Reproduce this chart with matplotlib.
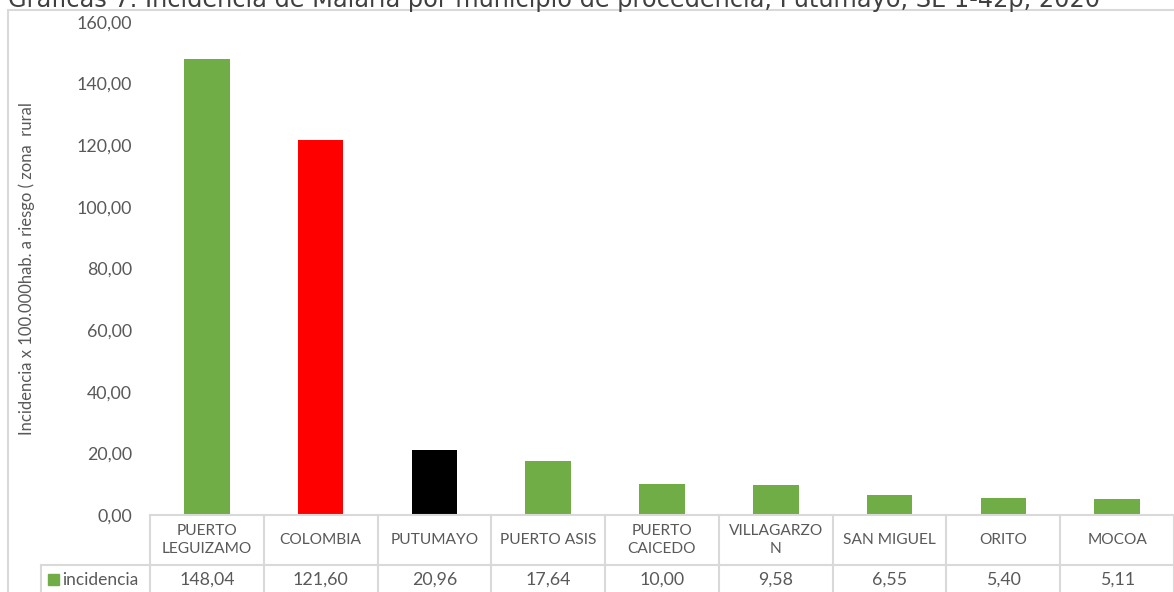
import matplotlib.pyplot as plt
from matplotlib.patches import Rectangle

# data
municipios = ['PUERTO\nLEGUIZAMO', 'COLOMBIA', 'PUTUMAYO', 'PUERTO ASIS', 'PUERTO\nCAICEDO',
              'VILLAGARZO\nN', 'SAN MIGUEL', 'ORITO', 'MOCOA']
incidencia = [148.04, 121.60, 20.96, 17.64, 10.00, 9.58, 6.55, 5.40, 5.11]
colores = ['#70AD47', '#FF0000', '#000000', '#70AD47', '#70AD47',
           '#70AD47', '#70AD47', '#70AD47', '#70AD47']
y_ticks = [0, 20, 40, 60, 80, 100, 120, 140, 160]

W, H = 1174, 592
grey_line = '#D9D9D9'
txt_col = '#595959'
font = 'Lato'

fig = plt.figure(figsize=(W / 100, H / 100), dpi=100)

# outer chart frame
fig.patches.append(Rectangle((8 / W, -0.1), 1.2, (H - 10) / H + 0.1, transform=fig.transFigure,
                             fill=False, edgecolor=grey_line, linewidth=1.5))

fig.text(8 / W, (H - 7) / H, 'Gráficas 7. Incidencia de Malaria por municipio de procedencia, Putumayo, SE 1-42p, 2020',
         fontsize=17.3, family='DejaVu Sans', color='#404040', va='baseline', ha='left')

# bar area
ax = fig.add_axes([150 / W, (H - 515) / H, 1024 / W, 493 / H])
x = list(range(len(municipios)))
ax.bar(x, incidencia, width=0.4, color=colores)
ax.set_xlim(-0.5, len(municipios) - 0.5)
ax.set_ylim(0, 160)
ax.set_yticks(y_ticks)
ax.set_yticklabels([f'{v:.2f}'.replace('.', ',') for v in y_ticks], family=font, fontsize=12.8, color=txt_col)
ax.tick_params(axis='y', length=0, pad=13)
ax.set_xticks([])
for s in ax.spines.values():
    s.set_visible(False)
ax.set_ylabel('Incidencia x 100.000hab. a riesgo ( zona  rural', family=font, fontsize=12,
              color=txt_col, labelpad=30)

# data table under the bars
cell_w = 1024 / 9
left_w = 109 / cell_w
tab = fig.add_axes([41 / W, (H - 600) / H, (W - 41) / W, 85 / H])
tab.set_xlim(-0.5 - left_w, len(municipios) - 0.5)
tab.set_ylim(600, 515)
tab.axis('off')

lw = 1.5
tab.plot([-0.5, len(municipios) - 0.5], [515, 515], color=grey_line, lw=lw, clip_on=False)
tab.plot([-0.5 - left_w, len(municipios) - 0.5], [565, 565], color=grey_line, lw=lw, clip_on=False)
tab.plot([-0.5 - left_w, -0.5 - left_w], [565, 600], color=grey_line, lw=lw, clip_on=False)
for i in range(len(municipios) + 1):
    tab.plot([i - 0.5, i - 0.5], [515, 600], color=grey_line, lw=lw, clip_on=False)

for i, (m, v) in enumerate(zip(municipios, incidencia)):
    tab.text(i, 540, m, ha='center', va='center', family=font, fontsize=11.2,
             color=txt_col, linespacing=1.3)
    tab.text(i, 580, f'{v:.2f}'.replace('.', ','), ha='center', va='center', family=font,
             fontsize=12.8, color=txt_col)

tab.add_patch(Rectangle((-0.5 - left_w + 7 / cell_w, 574), 11 / cell_w, 11, color='#70AD47', clip_on=False))
tab.text(-0.5 - left_w + 21 / cell_w, 580, 'incidencia', ha='left', va='center', family=font,
         fontsize=12.5, color=txt_col)

fig.savefig('out.png', dpi=100)
